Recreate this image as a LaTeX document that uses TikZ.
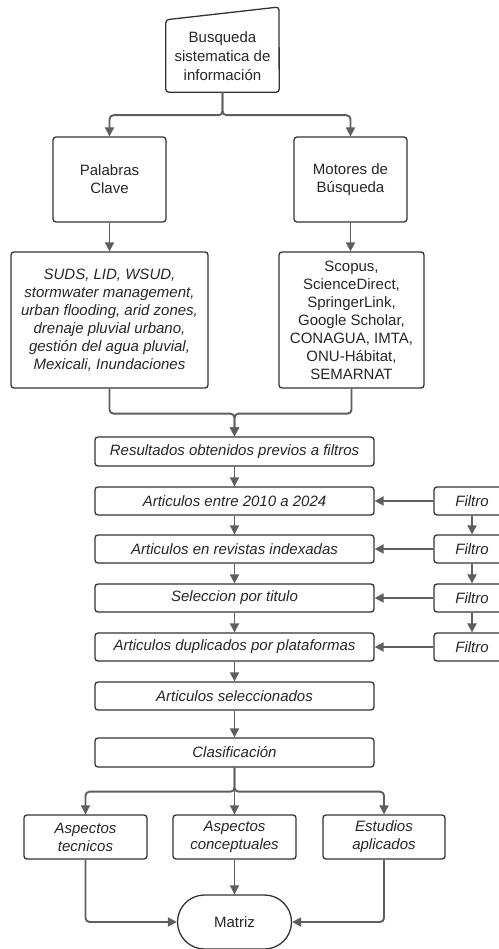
\documentclass[tikz,border=0pt]{standalone}
\usepackage{fontspec}
\setmainfont{Liberation Sans}
\usetikzlibrary{arrows.meta}
\definecolor{linec}{HTML}{5E5E5E}
\definecolor{boxc}{HTML}{333333}
\begin{document}
\begin{tikzpicture}[x=1pt,y=-1pt,
  box/.style={draw=boxc, line width=1.3pt, rounded corners=3pt, align=center, inner sep=0pt,
    font=\fontsize{15}{18}\selectfont, text=black!85},
  ibox/.style={box, font=\fontsize{15}{18}\selectfont\itshape},
  conn/.style={draw=linec, line width=1.9pt, rounded corners=4pt,
    -{Triangle[length=9pt,width=9pt]}},
  plain/.style={draw=linec, line width=1.9pt, rounded corners=4pt}]
\useasboundingbox (0,0) rectangle (498,949);

% top manual input
\node[align=center, inner sep=0pt, minimum width=113pt, minimum height=72pt,
  font=\fontsize{15}{19}\selectfont, text=black!85] (top) at (222.5,56) {Busqueda\\sistematica de\\información};
\draw[draw=boxc, line width=1.3pt, rounded corners=3pt]
  (top.north west) -- (279,7) -- (top.south east) -- (top.south west) -- cycle;

\node[box, minimum width=113pt, minimum height=85pt] (pal) at (109.5,179.5) {Palabras\\Clave};
\node[box, minimum width=113pt, minimum height=85pt] (mot) at (350.5,179.5) {Motores de\\Búsqueda};

\node[ibox, minimum width=197pt, minimum height=136pt] (suds) at (109.5,320)
  {SUDS, LID, WSUD,\\stormwater management,\\urban flooding, arid zones,\\drenaje pluvial urbano,\\gestión del agua pluvial,\\Mexicali, Inundaciones};
\node[box, minimum width=145pt, minimum height=136pt] (scop) at (351.5,320)
  {Scopus,\\ScienceDirect,\\SpringerLink,\\Google Scholar,\\CONAGUA, IMTA,\\ONU-Hábitat,\\SEMARNAT};

\node[ibox, minimum width=279pt, minimum height=29pt] (res) at (234.5,451.5) {Resultados obtenidos previos a filtros};
\node[ibox, minimum width=279pt, minimum height=28pt] (a1) at (234.5,501) {Articulos entre 2010 a 2024};
\node[ibox, minimum width=279pt, minimum height=28pt] (a2) at (234.5,549) {Articulos en revistas indexadas};
\node[ibox, minimum width=279pt, minimum height=28pt] (a3) at (234.5,598) {Seleccion por titulo};
\node[ibox, minimum width=279pt, minimum height=28pt] (a4) at (234.5,647) {Articulos duplicados por plataformas};
\node[ibox, minimum width=279pt, minimum height=28pt] (sel) at (234.5,696) {Articulos seleccionados};
\node[ibox, minimum width=279pt, minimum height=29pt] (cla) at (234.5,752.5) {Clasificación};

\node[ibox, minimum width=76pt, minimum height=28pt] (f1) at (472,501) {Filtro};
\node[ibox, minimum width=76pt, minimum height=28pt] (f2) at (472,549) {Filtro};
\node[ibox, minimum width=76pt, minimum height=28pt] (f3) at (472,598) {Filtro};
\node[ibox, minimum width=76pt, minimum height=28pt] (f4) at (472,647) {Filtro};

\node[ibox, minimum width=123pt, minimum height=44pt] (tec) at (85.5,837) {Aspectos\\tecnicos};
\node[ibox, minimum width=123pt, minimum height=44pt] (con) at (234.5,837) {Aspectos\\conceptuales};
\node[ibox, minimum width=122pt, minimum height=44pt] (est) at (384,837) {Estudios\\aplicados};

\node[box, rounded corners=27pt, minimum width=114pt, minimum height=54pt] (mat) at (234.5,922) {Matriz};

% connectors
\draw[conn] (top.south) -- ++(0,23) -| (pal.north);
\draw[conn] (top.south) -- ++(0,23) -| (mot.north);
\draw[conn] (pal) -- (suds);
\draw[conn] (mot.south) -- (mot.south |- scop.north);
\draw[conn] (suds.south) -- ++(0,25) -| (res.north);
\draw[conn] (scop.south) -- ++(0,25) -| (res.north);
\draw[conn] (res) -- (a1);
\draw[conn] (a1) -- (a2);
\draw[conn] (a2) -- (a3);
\draw[conn] (a3) -- (a4);
\draw[conn] (a4) -- (sel);
\draw[conn] (sel) -- (cla);
\draw[conn] (f1) -- (a1);
\draw[conn] (f2) -- (a2);
\draw[conn] (f3) -- (a3);
\draw[conn] (f4) -- (a4);
\draw[conn] (f1) -- (f2);
\draw[conn] (f2) -- (f3);
\draw[conn] (f3) -- (f4);
\draw[conn] (cla.south) -- ++(0,24) -| (tec.north);
\draw[conn] (cla.south) -- (con.north);
\draw[conn] (cla.south) -- ++(0,24) -| (est.north);
\draw[conn] (tec.south) |- (mat.west);
\draw[conn] (con) -- (mat);
\draw[conn] (est.south) |- (mat.east);
\end{tikzpicture}
\end{document}
